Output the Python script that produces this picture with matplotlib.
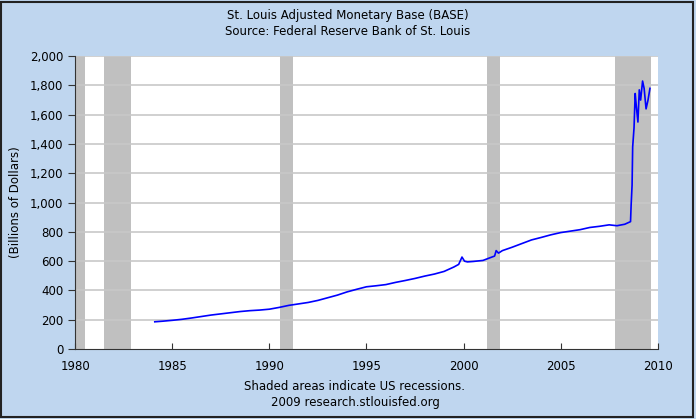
import matplotlib.pyplot as plt
from matplotlib.patches import Rectangle
from matplotlib.ticker import FuncFormatter

### Monetary base, billions of dollars
years = [1984.1, 1984.5, 1985.0, 1985.5, 1986.0, 1986.5, 1987.0, 1987.5, 1988.0, 1988.5,
         1989.0, 1989.5, 1990.0, 1990.5, 1991.0, 1991.5, 1992.0, 1992.5, 1993.0, 1993.5,
         1994.0, 1994.5, 1995.0, 1995.5, 1996.0, 1996.5, 1997.0, 1997.5, 1998.0, 1998.5,
         1999.0, 1999.5, 1999.75, 1999.92, 2000.05, 2000.2, 2000.5, 2001.0, 2001.3, 2001.6,
         2001.68, 2001.8, 2002.0, 2002.5, 2003.0, 2003.5, 2004.0, 2004.5, 2005.0, 2005.5,
         2006.0, 2006.5, 2007.0, 2007.5, 2007.9, 2008.3, 2008.6, 2008.63, 2008.68, 2008.71,
         2008.78, 2008.84, 2008.9, 2008.98, 2009.05, 2009.12, 2009.22, 2009.3, 2009.4, 2009.5,
         2009.6]
base = [186, 190, 196, 203, 212, 222, 232, 240, 248, 256,
        262, 266, 272, 284, 298, 308, 318, 332, 350, 368,
        390, 408, 425, 432, 440, 455, 468, 482, 498, 512,
        530, 560, 578, 628, 600, 595, 598, 605, 620, 635,
        672, 655, 672, 695, 720, 745, 762, 780, 795, 805,
        815, 830, 838, 848, 842, 852, 870, 980, 1120, 1380,
        1510, 1745, 1655, 1550, 1770, 1700, 1830, 1780, 1640, 1700,
        1780]

### US recessions (start, end)
rec_start = [1980.0, 1981.5, 1990.55, 2001.2, 2007.8]
rec_end = [1980.5, 1982.85, 1991.2, 2001.9, 2009.65]

yticks = list(range(0, 2001, 200))
xticks = [1980, 1985, 1990, 1995, 2000, 2005, 2010]

bg = '#bfd6ef'
fig = plt.figure(figsize=(6.96, 4.19), dpi=100, facecolor=bg)
ax = fig.add_axes([0.108, 0.167, 0.837, 0.699])
ax.set_facecolor('white')

for s, e in zip(rec_start, rec_end):
    ax.axvspan(s, e, color='#c0c0c0', lw=0, zorder=1)

for t in yticks[1:]:
    ax.axhline(t, color='#c8c8c8', lw=1.2, zorder=2)

ax.plot(years, base, color='#0000ff', lw=1.2, zorder=3)

ax.set_xlim(1980, 2010)
ax.set_ylim(0, 2000)
ax.set_xticks(xticks)
ax.set_yticks(yticks)
ax.yaxis.set_major_formatter(FuncFormatter(lambda v, p: f'{int(v):,}'))
ax.tick_params(axis='x', direction='in', length=4, labelsize=8.5, pad=8, color='#333333')
ax.tick_params(axis='y', direction='out', length=5, labelsize=8.5, color='#333333')
for side in ['top', 'right']:
    ax.spines[side].set_visible(False)
for side in ['left', 'bottom']:
    ax.spines[side].set_color('#333333')
ax.set_ylabel('(Billions of Dollars)', fontsize=8.5, labelpad=6)

fig.text(0.5, 0.962, 'St. Louis Adjusted Monetary Base (BASE)', ha='center', va='center', fontsize=8.5)
fig.text(0.5, 0.925, 'Source: Federal Reserve Bank of St. Louis', ha='center', va='center', fontsize=8.5)
fig.text(0.51, 0.078, 'Shaded areas indicate US recessions.', ha='center', va='center', fontsize=8.5)
fig.text(0.51, 0.040, '2009 research.stlouisfed.org', ha='center', va='center', fontsize=8.5)

### Frame around the whole picture
fig.patches.append(Rectangle((0.002, 0.004), 0.993, 0.992, transform=fig.transFigure,
                             fill=False, edgecolor='#222222', lw=1.5))

plt.savefig('out.png', dpi=100, facecolor=bg)
